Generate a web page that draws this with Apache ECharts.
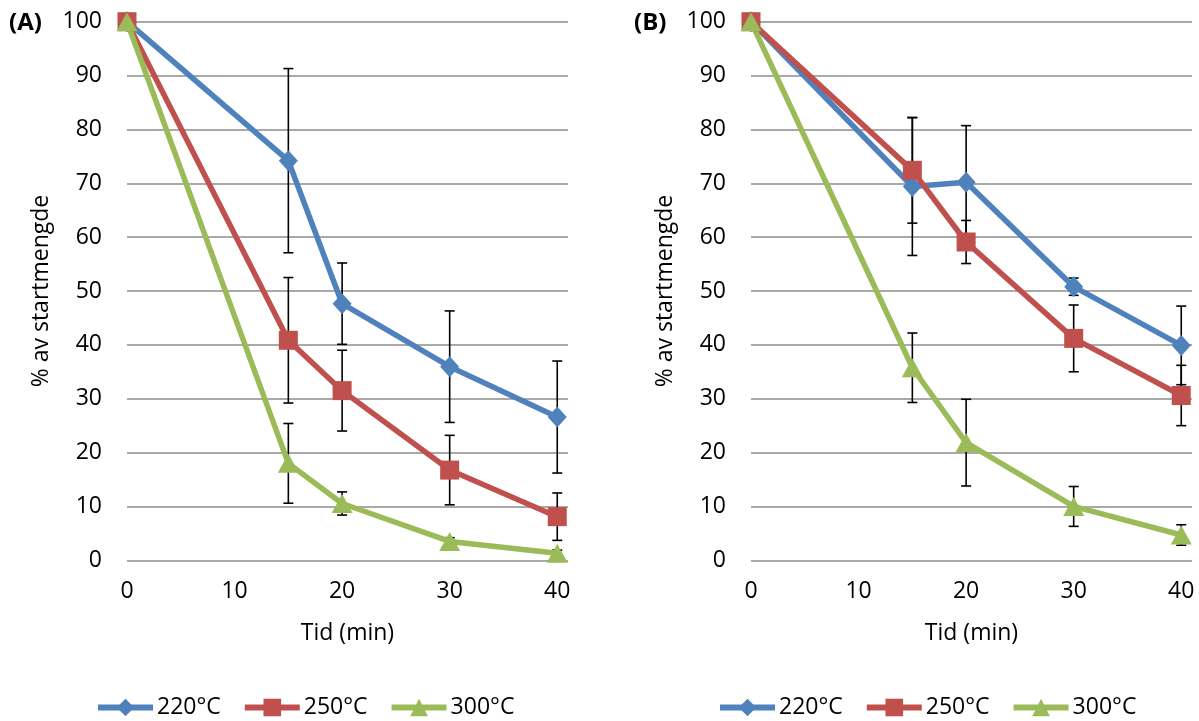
<!DOCTYPE html>
<html>
<head>
<meta charset="utf-8">
<script src="https://cdn.jsdelivr.net/npm/echarts@6/dist/echarts.min.js"></script>
<style>
html,body{margin:0;padding:0;background:#fff;}
#chart{width:1199px;height:721px;}
</style>
</head>
<body>
<div id="chart"></div>
<script>
// Data
const times = [0, 15, 20, 30, 40];
const xTicks = [0, 10, 20, 30, 40];
const seriesNames = ['220°C', '250°C', '300°C'];
// Panel A
const A220 = [100, 74.2, 47.65, 35.95, 26.6];
const A220err = [0, 17.1, 7.55, 10.35, 10.4];
const A250 = [100, 40.85, 31.5, 16.75, 8.1];
const A250err = [0, 11.65, 7.5, 6.45, 4.4];
const A300 = [100, 18.0, 10.55, 3.5, 1.3];
const A300err = [0, 7.4, 2.15, 0.7, 0.6];
// Panel B
const B220 = [100, 69.4, 70.2, 50.8, 39.9];
const B220err = [0, 12.8, 10.5, 1.6, 7.3];
const B250 = [100, 72.4, 59.1, 41.2, 30.6];
const B250err = [0, 9.8, 4.0, 6.2, 5.6];
const B300 = [100, 35.75, 21.85, 10.0, 4.7];
const B300err = [0, 6.45, 8.05, 3.7, 1.9];

const colors = ['#4F81BD', '#C0504D', '#9BBB59'];
const symbols = ['diamond', 'rect', 'triangle'];
const symbolSizes = [[19, 21], 19, [21, 19]];
const FONT = 'Open Sans';
const FS = 23;

function pairs(vals) { return times.map((t, i) => [t, vals[i]]); }
function errPairs(vals, errs) { return times.map((t, i) => [t, vals[i], errs[i]]); }

function errorSeries(gi, vals, errs) {
  return {
    type: 'custom',
    xAxisIndex: gi, yAxisIndex: gi,
    silent: true,
    data: errPairs(vals, errs),
    encode: { x: 0, y: 1 },
    renderItem: function (params, api) {
      const x = api.value(0), y = api.value(1), e = api.value(2);
      if (!e) return null;
      const top = api.coord([x, y + e]);
      const bot = api.coord([x, y - e]);
      const cw = 5;
      const st = { stroke: '#000', lineWidth: 1.6 };
      return {
        type: 'group',
        children: [
          { type: 'line', shape: { x1: top[0], y1: top[1], x2: bot[0], y2: bot[1] }, style: st },
          { type: 'line', shape: { x1: top[0] - cw, y1: top[1], x2: top[0] + cw, y2: top[1] }, style: st },
          { type: 'line', shape: { x1: bot[0] - cw, y1: bot[1], x2: bot[0] + cw, y2: bot[1] }, style: st }
        ]
      };
    }
  };
}

function lineSeries(gi, si, vals) {
  return {
    type: 'line',
    name: seriesNames[si],
    xAxisIndex: gi, yAxisIndex: gi,
    data: pairs(vals),
    symbol: symbols[si],
    symbolSize: symbolSizes[si],
    showAllSymbol: true,
    color: colors[si],
    lineStyle: { width: 5.5, color: colors[si] },
    itemStyle: { color: colors[si] },
    emphasis: { disabled: true },
    animation: false
  };
}

const panels = [
  [[A220, A220err], [A250, A250err], [A300, A300err]],
  [[B220, B220err], [B250, B250err], [B300, B300err]]
];

const series = [];
panels.forEach((p, gi) => {
  p.forEach((d, si) => {
    series.push(errorSeries(gi, d[0], d[1]));
    series.push(lineSeries(gi, si, d[0]));
  });
});

function xAxis(gi) {
  return {
    type: 'value', gridIndex: gi, min: 0, max: 41, interval: 10,
    name: 'Tid (min)', nameLocation: 'middle', nameGap: 62,
    nameTextStyle: { fontFamily: FONT, fontSize: FS, color: '#000' },
    axisLine: { show: false }, axisTick: { show: false },
    splitLine: { show: false },
    axisLabel: { fontFamily: FONT, fontSize: FS, color: '#000', margin: 20, showMaxLabel: false,
      formatter: v => (xTicks.indexOf(v) >= 0 ? String(v) : '') }
  };
}
function yAxis(gi) {
  return {
    type: 'value', gridIndex: gi, min: 0, max: 100, interval: 10,
    name: '% av startmengde', nameLocation: 'middle', nameGap: 74,
    nameTextStyle: { fontFamily: FONT, fontSize: FS, color: '#000' },
    axisLine: { show: false }, axisTick: { show: false },
    splitLine: { show: true, lineStyle: { color: '#8c8c8c', width: 1.5 } },
    axisLabel: { fontFamily: FONT, fontSize: FS, color: '#000', margin: 25 }
  };
}

const legendBase = {
  data: seriesNames, top: 696, itemWidth: 55, itemHeight: 22, itemGap: 21,
  padding: 0,
  lineStyle: { width: 6 },
  textStyle: { fontFamily: FONT, fontSize: FS, color: '#000', padding: [0, 0, 0, -1] },
  selectedMode: false
};

const chart = echarts.init(document.getElementById('chart'));
chart.setOption({
  animation: false,
  backgroundColor: '#fff',
  title: [
    { text: '(A)', left: 4, top: 6, textStyle: { fontFamily: FONT, fontSize: 24, fontWeight: 'bold', color: '#000' } },
    { text: '(B)', left: 629, top: 6, textStyle: { fontFamily: FONT, fontSize: 24, fontWeight: 'bold', color: '#000' } }
  ],
  grid: [
    { left: 127, top: 21.7, width: 441, height: 538.6 },
    { left: 751, top: 21.7, width: 441, height: 538.6 }
  ],
  xAxis: [xAxis(0), xAxis(1)],
  yAxis: [yAxis(0), yAxis(1)],
  legend: [
    Object.assign({}, legendBase, { left: 95 }),
    Object.assign({}, legendBase, { left: 717 })
  ],
  series: series
});
</script>
</body>
</html>
